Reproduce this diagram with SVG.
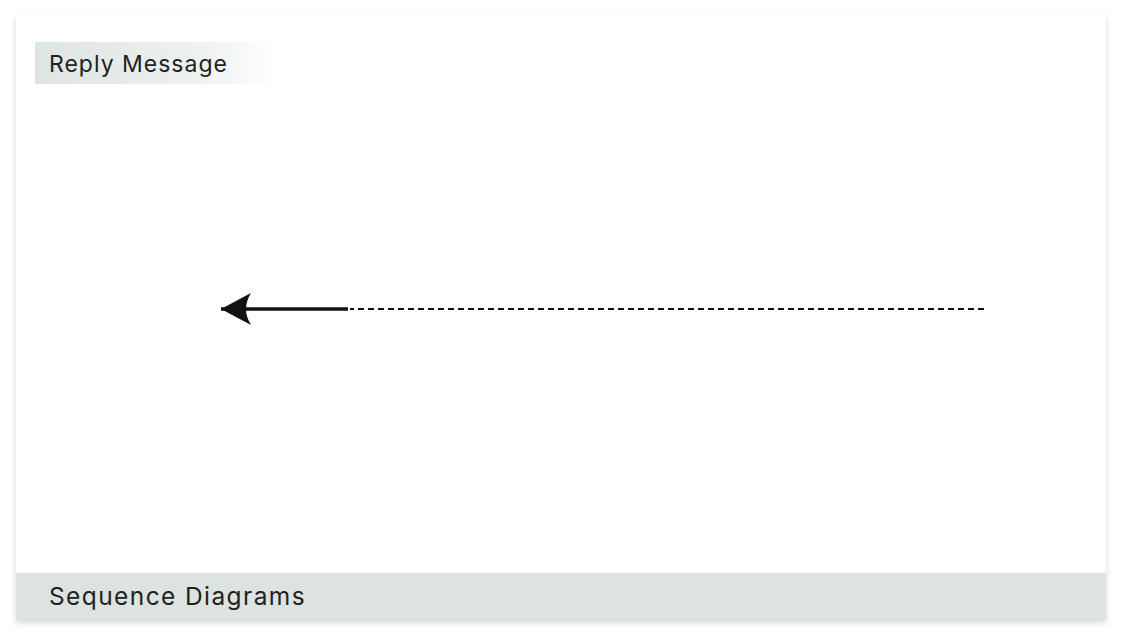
<svg xmlns="http://www.w3.org/2000/svg" width="1122" height="636" viewBox="0 0 1122 636">
<style>
.lbl{font-family:"Inter","Noto Sans","Liberation Sans",sans-serif;fill:#222}
</style>
<defs>
<filter id="sh" x="-5%" y="-5%" width="110%" height="115%">
<feDropShadow dx="0" dy="3" stdDeviation="3" flood-color="#000" flood-opacity="0.15"/>
</filter>
<linearGradient id="tg" x1="0" y1="0" x2="1" y2="0">
<stop offset="0" stop-color="#dde5e2"/>
<stop offset="0.7" stop-color="#eef2f0"/>
<stop offset="1" stop-color="#ffffff"/>
</linearGradient>
<marker id="ah" viewBox="0 0 30 32" markerWidth="30" markerHeight="32" refX="30" refY="16" orient="auto" markerUnits="userSpaceOnUse">
<path d="M30,16 L0,0 Q10,16 0,32 Z" fill="#111"/>
</marker>
</defs>
<rect width="1122" height="636" fill="#ffffff"/>
<g id="card">
<rect x="16" y="15" width="1090" height="605" fill="#ffffff" filter="url(#sh)"/>
<rect x="16" y="573" width="1090" height="47" fill="#dce3e0"/>
</g>
<g id="title">
<rect x="35" y="42" width="240" height="42" fill="url(#tg)"/>
<text class="lbl" x="49" y="72" font-size="23" letter-spacing="1">Reply Message</text>
</g>
<g id="footer">
<text class="lbl" x="49" y="605" font-size="24.5" letter-spacing="1.4" fill="#2a302e">Sequence Diagrams</text>
</g>
<g id="connectors">
<line x1="984" y1="309" x2="350" y2="309" stroke="#111" stroke-width="2" stroke-dasharray="6,4"/>
<line x1="348" y1="309" x2="221" y2="309" stroke="#111" stroke-width="3.5" marker-end="url(#ah)"/>
</g>
</svg>
